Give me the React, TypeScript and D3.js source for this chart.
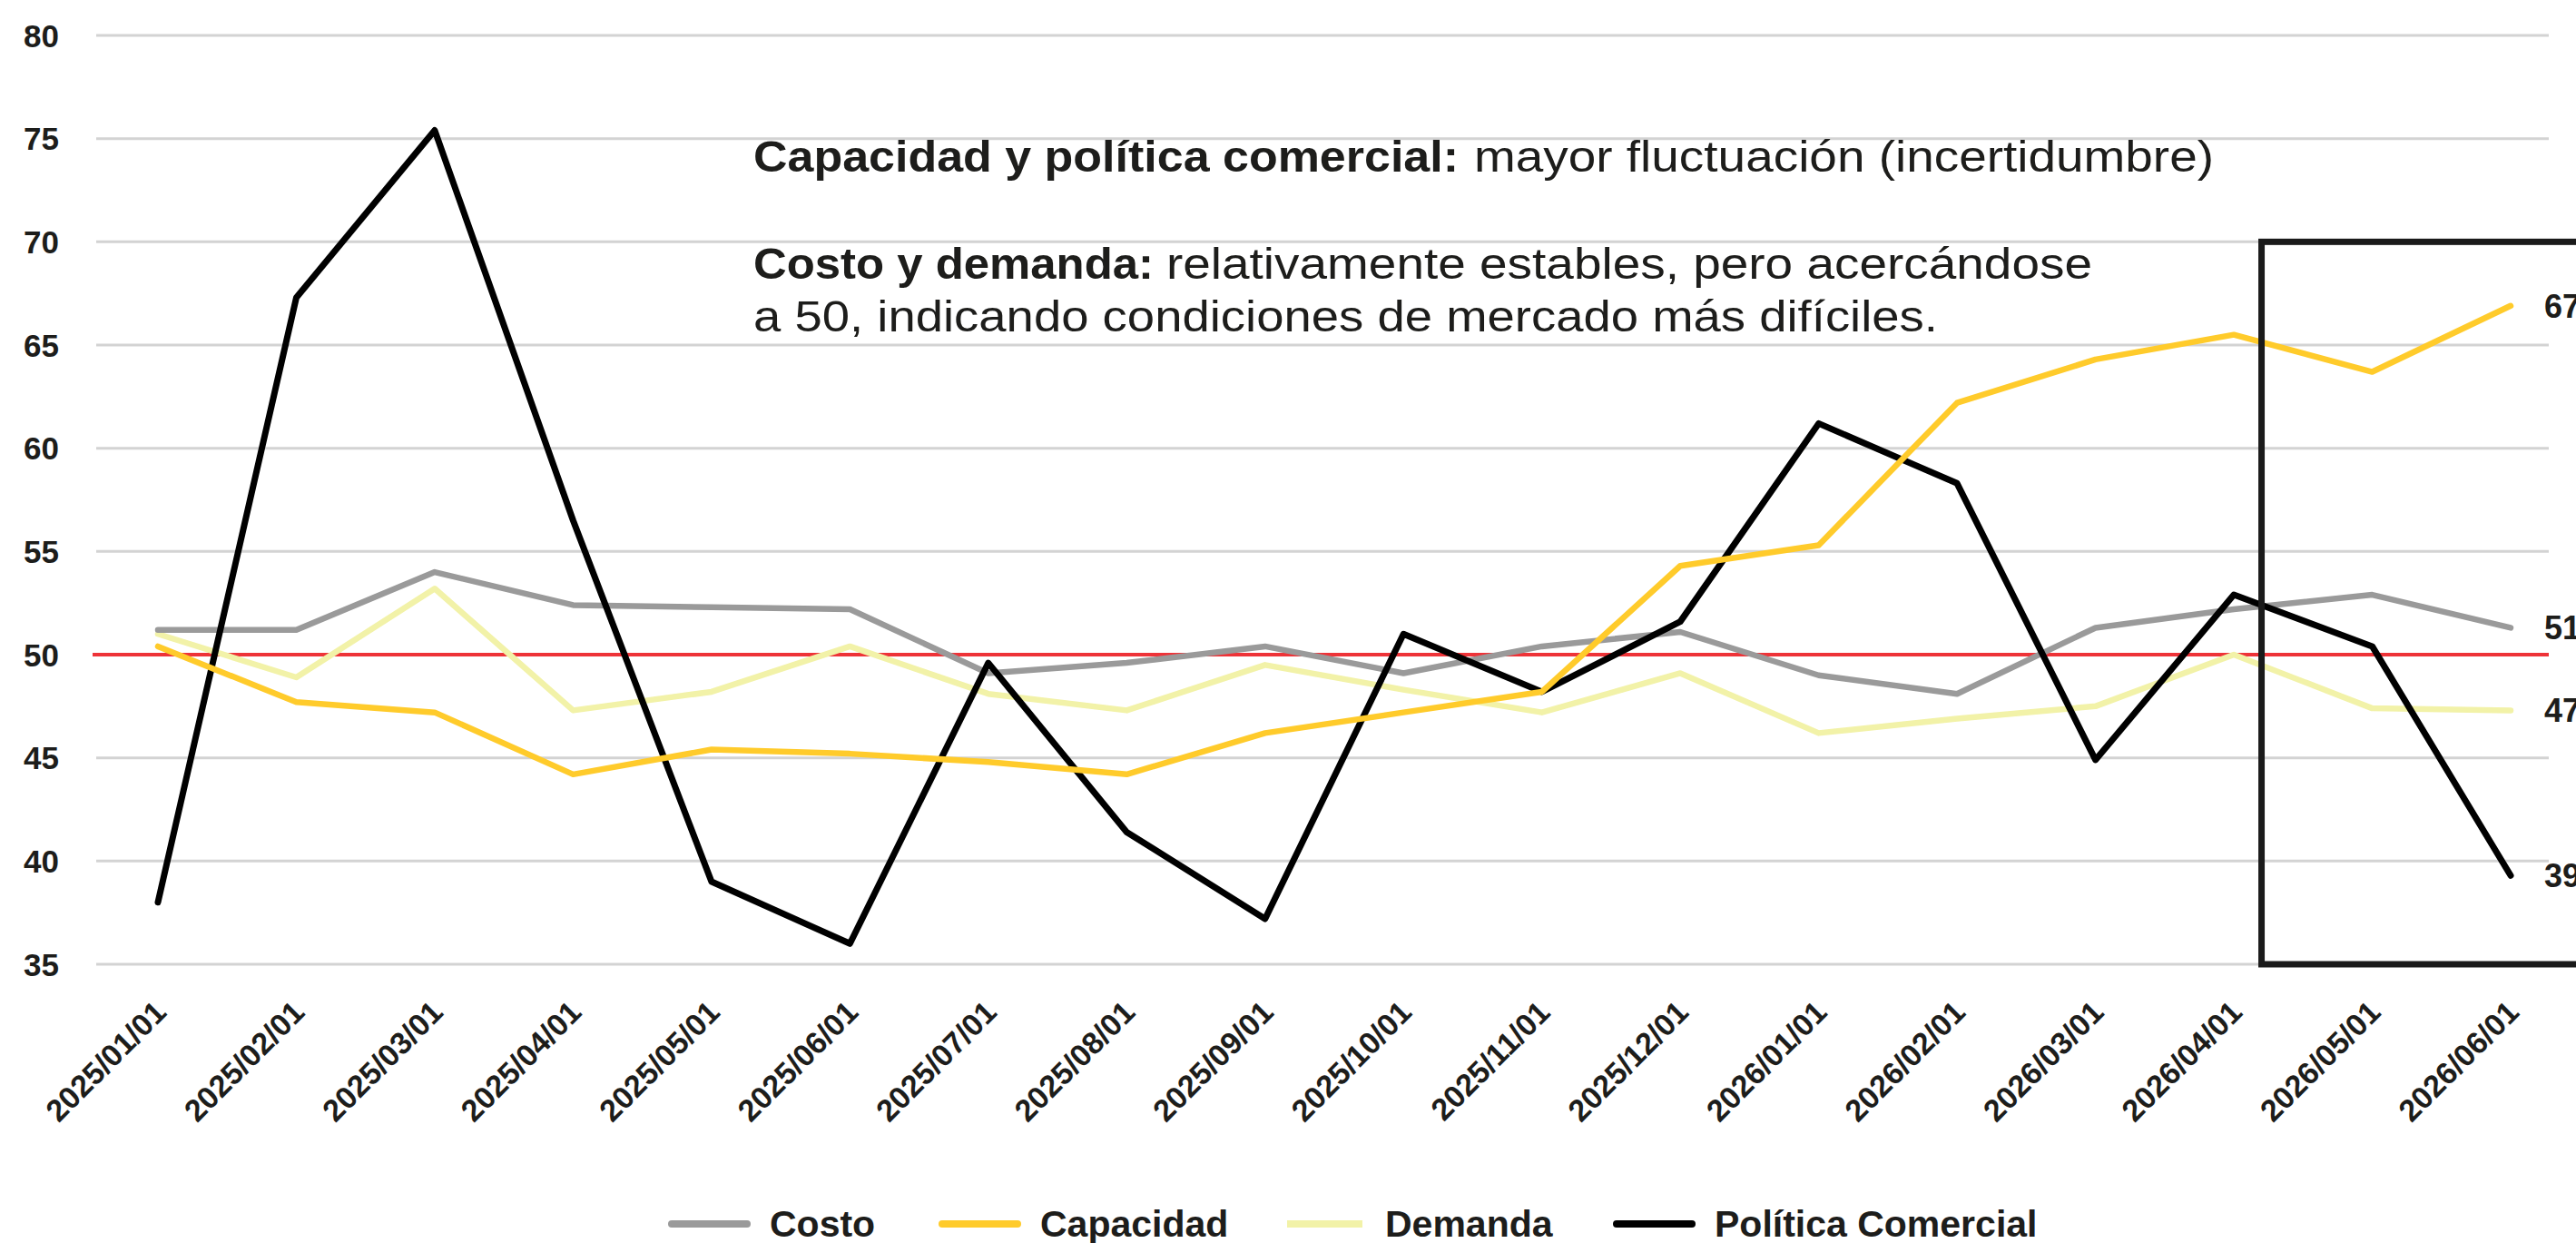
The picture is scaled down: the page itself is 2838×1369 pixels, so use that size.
import React from "react";
import * as d3 from "d3";

const dates = [
  "2025/01/01", "2025/02/01", "2025/03/01", "2025/04/01", "2025/05/01", "2025/06/01",
  "2025/07/01", "2025/08/01", "2025/09/01", "2025/10/01", "2025/11/01", "2025/12/01",
  "2026/01/01", "2026/02/01", "2026/03/01", "2026/04/01", "2026/05/01", "2026/06/01",
];

const costo = [51.2, 51.2, 54.0, 52.4, 52.3, 52.2, 49.1, 49.6, 50.4, 49.1, 50.4, 51.1, 49.0, 48.1, 51.3, 52.2, 52.9, 51.3];
const capacidad = [50.4, 47.7, 47.2, 44.2, 45.4, 45.2, 44.8, 44.2, 46.2, 47.2, 48.2, 54.3, 55.3, 62.2, 64.3, 65.5, 63.7, 66.9];
const demanda = [51.0, 48.9, 53.2, 47.3, 48.2, 50.4, 48.1, 47.3, 49.5, 48.3, 47.2, 49.1, 46.2, 46.9, 47.5, 50.0, 47.4, 47.3];
const politica = [38.0, 67.3, 75.4, 56.5, 39.0, 36.0, 49.6, 41.4, 37.2, 51.0, 48.2, 51.6, 61.2, 58.3, 44.9, 52.9, 50.4, 39.3];

const yTicks = [35, 40, 45, 50, 55, 60, 65, 70, 75, 80];
const threshold = 50;

const seriesNames = ["Costo", "Capacidad", "Demanda", "Política Comercial"];
const seriesColors = ["#9a9a9a", "#FFCB2B", "#F2F2A8", "#000000"];

const FONT = "'Liberation Sans', Arial, sans-serif";
const TEXT = "#1d1d1b";

export default function App() {
  const W = 2838;
  const H = 1369;
  const x = d3.scalePoint<string>().domain(dates).range([174, 2766]);
  const y = d3.scaleLinear().domain([35, 80]).range([1062, 39]);
  const gridLeft = 106;
  const gridRight = 2808;

  const allSeries = [costo, capacidad, demanda, politica];
  const line = d3
    .line<number>()
    .x((_, i) => x(dates[i]) as number)
    .y((d) => y(d));

  // drawing order: Demanda, Costo, Política, Capacidad
  const order = [2, 0, 3, 1];

  const step = x.step();
  const boxLeft = (x(dates[15]) as number) + 0.2 * step;

  const legendX = [740, 1038, 1418, 1781];

  return (
    <svg
      width={W}
      height={H}
      style={{ position: "absolute", left: 0, top: 0, display: "block", background: "#fff" }}
      fontFamily={FONT}
    >
      <rect x={0} y={0} width={W} height={H} fill="#fff" />
      {/* gridlines */}
      {yTicks.map((t) => (
        <line key={t} x1={gridLeft} x2={gridRight} y1={y(t)} y2={y(t)} stroke="#d3d3d3" strokeWidth={3} />
      ))}
      {/* y tick labels */}
      {yTicks.map((t) => (
        <text key={"l" + t} x={65} y={y(t)} dy="0.36em" textAnchor="end" fontSize={35} fontWeight={700} fill={TEXT}>
          {t}
        </text>
      ))}
      {/* threshold line */}
      <line x1={gridLeft - 4} x2={gridRight} y1={y(threshold)} y2={y(threshold)} stroke="#EE3338" strokeWidth={4} />

      {/* series */}
      {order.map((si) => (
        <path
          key={si}
          d={line(allSeries[si]) || ""}
          fill="none"
          stroke={seriesColors[si]}
          strokeWidth={si === 3 ? 7 : 6.5}
          strokeLinejoin="round"
          strokeLinecap="round"
        />
      ))}

      {/* highlight box */}
      <rect
        x={boxLeft}
        y={y(70)}
        width={W - boxLeft + 20}
        height={y(35) - y(70)}
        fill="none"
        stroke="#1a1a1a"
        strokeWidth={7}
      />

      {/* end labels */}
      {allSeries.map((s, si) => (
        <text
          key={"e" + si}
          x={2803}
          y={y(s[s.length - 1])}
          dy="0.36em"
          fontSize={36}
          fontWeight={700}
          fill={TEXT}
        >
          {Math.round(s[s.length - 1])}
        </text>
      ))}

      {/* x tick labels */}
      {dates.map((d) => (
        <text
          key={d}
          transform={`translate(${(x(d) as number) + 11},1117) rotate(-45)`}
          textAnchor="end"
          fontSize={34}
          fontWeight={700}
          fill={TEXT}
        >
          {d}
        </text>
      ))}

      {/* annotations */}
      <text x={830} y={189} fontSize={49} fontWeight={700} fill={TEXT} textLength={777} lengthAdjust="spacingAndGlyphs">
        Capacidad y política comercial:
      </text>
      <text x={1624} y={189} fontSize={49} fill={TEXT} textLength={815} lengthAdjust="spacingAndGlyphs">
        mayor fluctuación (incertidumbre)
      </text>
      <text x={830} y={307} fontSize={49} fontWeight={700} fill={TEXT} textLength={441} lengthAdjust="spacingAndGlyphs">
        Costo y demanda:
      </text>
      <text x={1285} y={307} fontSize={49} fill={TEXT} textLength={1020} lengthAdjust="spacingAndGlyphs">
        relativamente estables, pero acercándose
      </text>
      <text x={830} y={365} fontSize={49} fill={TEXT} textLength={1305} lengthAdjust="spacingAndGlyphs">
        a 50, indicando condiciones de mercado más difíciles.
      </text>

      {/* legend */}
      {seriesNames.map((n, i) => (
        <g key={n}>
          <line
            x1={legendX[i]}
            x2={legendX[i] + 83}
            y1={1348}
            y2={1348}
            stroke={seriesColors[i]}
            strokeWidth={8}
            strokeLinecap={i === 2 ? "butt" : "round"}
          />
          <text x={legendX[i] + 108} y={1362} fontSize={41} fontWeight={700} fill={TEXT}>
            {n}
          </text>
        </g>
      ))}
    </svg>
  );
}
